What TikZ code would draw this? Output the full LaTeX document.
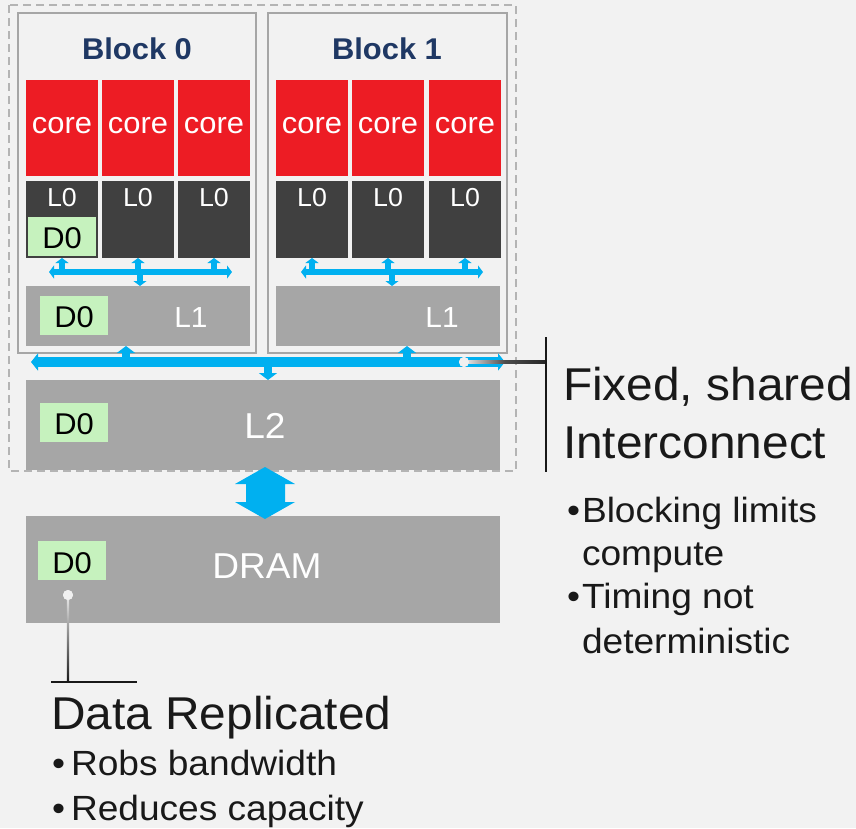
\documentclass[tikz,border=0pt]{standalone}
\usepackage{fontspec}
\setmainfont[FakeStretch=1.03]{Liberation Sans}
\newfontfamily\headfont[FakeStretch=1.04]{Liberation Sans}
\newfontfamily\bulletfont[FakeStretch=1.06]{Liberation Sans}
\usetikzlibrary{arrows.meta,calc}
\definecolor{bg}{HTML}{F2F2F2}
\definecolor{cachegray}{HTML}{A6A6A6}
\definecolor{framegray}{HTML}{A6A6A6}
\definecolor{dashgray}{HTML}{B4B4B4}
\definecolor{corered}{HTML}{ED1C24}
\definecolor{lzerodark}{HTML}{404040}
\definecolor{datagreen}{HTML}{C6F2BE}
\definecolor{busblue}{HTML}{00B0F0}
\definecolor{titleblue}{HTML}{1F3864}
\newcommand{\fs}[1]{\fontsize{#1}{#1}\selectfont}
\tikzset{
  rect/.style={anchor=north west, inner sep=0pt, outer sep=0pt, draw=none},
  corebox/.style={rect, fill=corered, minimum width=72pt, minimum height=96pt},
  lzerobox/.style={rect, fill=lzerodark, minimum width=72pt, minimum height=77pt},
  greenbox/.style={rect, fill=datagreen, minimum width=68pt, minimum height=39pt},
  cachebox/.style={rect, fill=cachegray},
  blockframe/.style={draw=framegray, line width=2pt, fill=bg},
  lbl/.style={anchor=base, inner sep=0pt, outer sep=0pt},
  whitelbl/.style={lbl, text=white},
  smallbus/.style={busblue, line width=6pt},
  smallends/.style={smallbus, {Triangle[width=13pt,length=5pt]}-{Triangle[width=13pt,length=5pt]}},
  smalltip/.style={smallbus, line width=5.5pt, -{Triangle[width=13pt,length=5pt]}},
  bigbus/.style={busblue, line width=10pt, {Triangle[width=17pt,length=7pt]}-{Triangle[width=17pt,length=7pt]}},
  bigtip/.style={busblue, line width=8.5pt, -{Triangle[width=18pt,length=7pt]}},
  dot/.style={circle, fill=white!88!gray, inner sep=0pt, minimum size=10pt},
  note/.style={anchor=base west, inner sep=0pt, outer sep=0pt, text=black!90},
  headnote/.style={note, font=\headfont\fs{46}},
  bulletnote/.style={note, font=\bulletfont\fs{35}},
}
\begin{document}
\begin{tikzpicture}[x=1pt,y=-1pt]
  % page
  \fill[bg] (0,0) rectangle (856,828);
  \useasboundingbox (0,0) rectangle (856,828);

  % chip outline
  \draw[dashgray, line width=2pt, dash pattern=on 8pt off 5pt] (9,5) rectangle (516,471);

  % blocks
  \draw[blockframe] (18,13) rectangle (256,353);
  \draw[blockframe] (268,13) rectangle (507,353);
  \node[lbl, font=\bfseries\fs{30}, text=titleblue] (t0) at (137,59) {Block 0};
  \node[lbl, font=\bfseries\fs{30}, text=titleblue] (t1) at (387,59) {Block 1};

  % cores and L0 caches
  \foreach \i/\x in {0/26,1/102,2/178,3/276,4/352,5/429}{
    \node[corebox] (c\i) at (\x,80) {};
    \node[whitelbl, font=\fs{30}] at ($(c\i.north)+(0,53)$) {core};
    \node[lzerobox] (z\i) at (\x,181) {};
    \node[whitelbl, font=\fs{26}] at ($(z\i.north)+(0,25)$) {L0};
  }
  \node[greenbox] (dz) at (28,217) {};
  \node[lbl, font=\fs{30}] at ($(dz.south)+(0,-8)$) {D0};

  % L1 caches
  \node[cachebox, minimum width=224pt, minimum height=60pt] (la) at (26,286) {};
  \node[cachebox, minimum width=224pt, minimum height=60pt] (lb) at (276,286) {};
  \node[greenbox] (da) at (40,296) {};
  \node[lbl, font=\fs{30}] at ($(da.south)+(0,-8)$) {D0};
  \node[whitelbl, font=\fs{29}] at (191,327) {L1};
  \node[whitelbl, font=\fs{29}] at (442,327) {L1};

  % L2 cache
  \node[cachebox, minimum width=474pt, minimum height=90pt] (ltwo) at (26,380) {};
  \node[greenbox] (db) at (40,403) {};
  \node[lbl, font=\fs{30}] at ($(db.south)+(0,-8)$) {D0};
  \node[whitelbl, font=\fs{36}] at (265,438) {L2};

  % DRAM
  \node[cachebox, minimum width=474pt, minimum height=107pt] (dram) at (26,516) {};
  \node[greenbox] (dc) at (38,541) {};
  \node[lbl, font=\fs{30}] at ($(dc.south)+(0,-7)$) {D0};
  \node[whitelbl, font=\fs{36}] at (267,578) {DRAM};

  % block-local buses (L0 <-> L1)
  \coordinate (ba) at (140,272);
  \coordinate (bb) at (392,272);
  \draw[smallends] ($(ba)+(-91,0)$) -- ($(ba)+(92,0)$);
  \draw[smallends] ($(bb)+(-91,0)$) -- ($(bb)+(91,0)$);
  \foreach \i in {0,1,2}{ \draw[smalltip] (z\i.south |- ba) -- (z\i.south); }
  \foreach \i in {3,4,5}{ \draw[smalltip] (z\i.south |- bb) -- (z\i.south); }
  \draw[smalltip] (ba) -- (ba |- la.north);
  \draw[smalltip] (bb) -- (bb |- lb.north);

  % shared interconnect (L1 <-> L2)
  \coordinate (busL) at (31,362);
  \coordinate (busR) at (505,362);
  \draw[bigbus] (busL) -- (busR);
  \coordinate (upa) at (126,362);
  \coordinate (upb) at (407,362);
  \coordinate (dn) at (268,362);
  \draw[bigtip] (upa) -- (upa |- la.south);
  \draw[bigtip] (upb) -- (upb |- lb.south);
  \draw[bigtip] (dn) -- (dn |- ltwo.north);

  % L2 <-> DRAM
  \fill[busblue] (265,467) -- (295,484) -- (285,484) -- (285,502) -- (295,502)
     -- (265,519) -- (235,502) -- (246,502) -- (246,484) -- (235,484) -- cycle;

  % callout: interconnect
  \node[dot] (dA) at (464,362) {};
  \coordinate (brk) at (546,362);
  \shade[left color=white!85!gray, right color=black!85, middle color=black!70]
     ($(dA.center)+(0,-1.2)$) rectangle ($(brk)+(0,1.2)$);
  \node[dot] at (dA) {};
  \draw[black!90, line width=2.5pt] (546,337) -- (546,472);
  \node[headnote] (fx) at (563,400) {Fixed, shared};
  \node[headnote] (ic) at (563,458) {Interconnect};
  \foreach \y/\b/\t in {522/1/Blocking limits,565/0/compute,608/1/Timing not,653/0/deterministic}{
    \ifnum\b=1 \node[bulletnote] at (567,\y) {•};\fi
    \node[bulletnote] at (582,\y) {\t};
  }

  % callout: replicated data
  \node[dot] (dB) at (68,595) {};
  \coordinate (elb) at (68,682);
  \shade[top color=white!85!gray, bottom color=black!90]
     ($(dB.center)+(-1.2,0)$) rectangle ($(elb)+(1.2,0)$);
  \node[dot] at (dB) {};
  \draw[black!90, line width=2.5pt] (51,682) -- (137,682);
  \node[headnote] (dr) at (51,729) {Data Replicated};
  \node[bulletnote] at (52,775) {•};
  \node[bulletnote] (rb) at (71,775) {Robs bandwidth};
  \node[bulletnote] at (52,820) {•};
  \node[bulletnote] (rc) at (71,820) {Reduces capacity};
\end{tikzpicture}
\end{document}
